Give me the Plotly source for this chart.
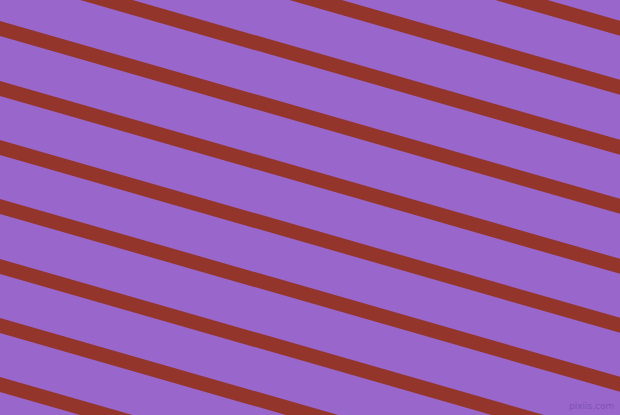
import numpy as np
import plotly.graph_objects as go

W, H = 620, 415

# stripe top edges where they meet the left border (px from top)
stripe_offsets = [-157, -98, -38, 21, 81, 140, 199, 259, 318, 377]
stripe_angle = 16.0      # degrees, falling to the right
stripe_height = 15       # vertical thickness in px

bg_color = "#9966CC"
stripe_color = "#94352B"

slope = np.tan(np.radians(stripe_angle))

xs, ys = [], []
for off in stripe_offsets:
    x0, x1 = -10, W + 10
    xs += [x0, x1, x1, x0, x0, None]
    ys += [off + slope * x0, off + slope * x1,
           off + slope * x1 + stripe_height, off + slope * x0 + stripe_height,
           off + slope * x0, None]

fig = go.Figure()
fig.add_trace(
    go.Scatter(
        x=xs,
        y=ys,
        mode="lines",
        fill="toself",
        fillcolor=stripe_color,
        line=dict(width=0, color=stripe_color),
        hoverinfo="skip",
        showlegend=False,
    )
)

fig.update_layout(
    width=W,
    height=H,
    margin=dict(l=0, r=0, t=0, b=0),
    paper_bgcolor=bg_color,
    plot_bgcolor=bg_color,
    xaxis=dict(range=[0, W], visible=False, fixedrange=True),
    yaxis=dict(range=[H, 0], visible=False, fixedrange=True),
    annotations=[
        dict(
            text="pixiis.com",
            x=1, y=0, xref="paper", yref="paper",
            xanchor="right", yanchor="bottom",
            xshift=-4, yshift=2,
            showarrow=False,
            font=dict(family="DejaVu Sans", size=9, color="#8052b5"),
        )
    ],
)

# the page has a default body margin; drop it so the figure fills the window
fig.write_html(
    "out.html",
    config=dict(displayModeBar=False),
    post_script="document.body.style.margin='0';document.body.style.overflow='hidden';",
)
